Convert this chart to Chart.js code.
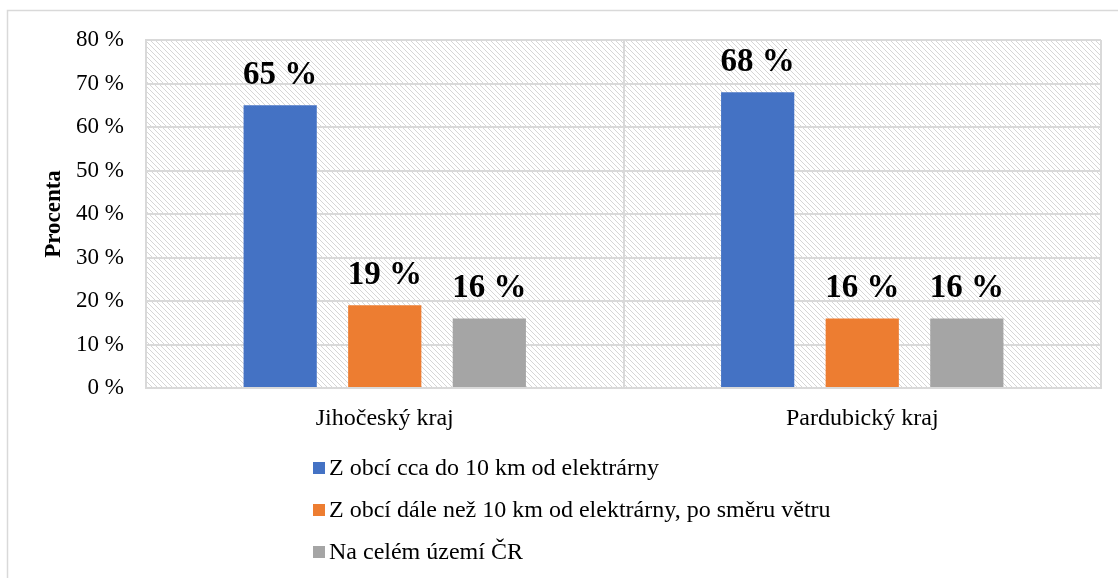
<!DOCTYPE html>
<html>
<script src="https://cdn.jsdelivr.net/npm/chart.js@4.4.0/dist/chart.umd.min.js"></script>
<body style="margin:0;background:#fff">

<canvas id="myChart" width="1118" height="578" style="display:block"></canvas>

<script>
var categories = ["Jihočeský kraj", "Pardubický kraj"];
var seriesNames = [
  "Z obcí cca do 10 km od elektrárny",
  "Z obcí dále než 10 km od elektrárny, po směru větru",
  "Na celém území ČR"
];
var nearPlant = [65, 68];
var downwind = [19, 16];
var wholeCountry = [16, 16];
var yMax = 80;
var yStep = 10;

var serif = "'Liberation Serif', 'Times New Roman', serif";
var gridColor = "#d9d9d9";

// diagonal hatch tile for the plot background
function hatchPattern(ctx) {
  var tile = document.createElement("canvas");
  tile.width = 5; tile.height = 5;
  var t = tile.getContext("2d");
  t.strokeStyle = "#d6d6d6";
  t.lineWidth = 1;
  [-5, 0, 5].forEach(function (o) {
    t.beginPath();
    t.moveTo(o - 1, -1);
    t.lineTo(o + 6, 6);
    t.stroke();
  });
  return ctx.createPattern(tile, "repeat");
}

var backdrop = {
  id: "backdrop",
  beforeDraw: function (chart) {
    var ctx = chart.ctx, a = chart.chartArea;
    ctx.save();
    ctx.strokeStyle = gridColor;
    ctx.lineWidth = 1.5;
    ctx.beginPath();
    ctx.moveTo(7.5, 600);
    ctx.lineTo(7.5, 10.5);
    ctx.lineTo(1130, 10.5);
    ctx.stroke();
    ctx.fillStyle = hatchPattern(ctx);
    ctx.fillRect(a.left, a.top, a.right - a.left, a.bottom - a.top);
    ctx.restore();
  }
};

var valueLabels = {
  id: "valueLabels",
  afterDatasetsDraw: function (chart) {
    var ctx = chart.ctx;
    ctx.save();
    ctx.font = "bold 33px " + serif;
    ctx.fillStyle = "#000";
    ctx.textAlign = "center";
    ctx.textBaseline = "middle";
    chart.data.datasets.forEach(function (ds, i) {
      chart.getDatasetMeta(i).data.forEach(function (bar, j) {
        ctx.fillText(ds.data[j] + " %", bar.x, bar.y - 30);
      });
    });
    ctx.restore();
  }
};

var bottomLegend = {
  id: "bottomLegend",
  afterDraw: function (chart) {
    var ctx = chart.ctx;
    ctx.save();
    ctx.font = "24px " + serif;
    ctx.textBaseline = "middle";
    chart.data.datasets.forEach(function (ds, i) {
      var y = 468 + i * 42;
      ctx.fillStyle = ds.backgroundColor;
      ctx.fillRect(313, y - 6, 12, 12);
      ctx.fillStyle = "#000";
      ctx.fillText(ds.label, 329, y + 1);
    });
    ctx.restore();
  }
};

var colors = ["#4472C4", "#ED7D31", "#A5A5A5"];
var values = [nearPlant, downwind, wholeCountry];

var myChart = new Chart("myChart", {
  type: "bar",
  data: {
    labels: categories,
    datasets: seriesNames.map(function (name, i) {
      return {
        label: name,
        data: values[i],
        backgroundColor: colors[i],
        barPercentage: 0.7,
        categoryPercentage: 0.657
      };
    })
  },
  options: {
    responsive: false,
    animation: false,
    layout: {padding: {top: 40, right: 17, left: 0, bottom: 130}},
    plugins: {
      legend: {display: false},
      tooltip: {enabled: false}
    },
    scales: {
      x: {
        grid: {color: gridColor, lineWidth: 2, drawTicks: false, offset: true},
        border: {color: gridColor, width: 2},
        ticks: {color: "#000", font: {family: serif, size: 24}, padding: 16},
        afterFit: function (s) { s.height = 60; }
      },
      y: {
        min: 0,
        max: yMax,
        grid: {color: gridColor, lineWidth: 2, drawTicks: false},
        border: {color: gridColor, width: 2},
        ticks: {
          stepSize: yStep,
          color: "#000",
          font: {family: serif, size: 23},
          padding: 22,
          callback: function (v) { return v + " %"; }
        },
        title: {
          display: true,
          text: "Procenta",
          color: "#000",
          font: {family: serif, size: 23, weight: "bold"},
          padding: {top: 40, bottom: 0}
        },
        afterFit: function (s) { s.width = 146; }
      }
    }
  },
  plugins: [backdrop, valueLabels, bottomLegend]
});
</script>

</body>
</html>
